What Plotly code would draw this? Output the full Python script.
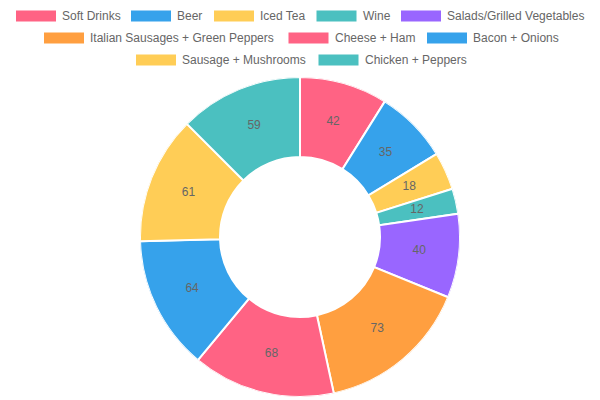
import plotly.graph_objects as go

labels = ["Soft Drinks", "Beer", "Iced Tea", "Wine", "Salads/Grilled Vegetables",
          "Italian Sausages + Green Peppers", "Cheese + Ham", "Bacon + Onions",
          "Sausage + Mushrooms", "Chicken + Peppers"]
values = [42, 35, 18, 12, 40, 73, 68, 64, 61, 59]
colors = ["rgb(255,99,132)", "rgb(54,162,235)", "rgb(255,205,86)", "rgb(75,192,192)",
          "rgb(153,102,255)", "rgb(255,159,64)", "rgb(255,99,132)", "rgb(54,162,235)",
          "rgb(255,205,86)", "rgb(75,192,192)"]

# legend layout (pixels): row index and box left edge
legend_row = [0, 0, 0, 0, 0, 1, 1, 1, 2, 2]
legend_x = [16, 131, 214, 316.5, 401, 44, 288.5, 427, 136, 318.5]
row_y = [16, 38, 60]

W, H = 600, 400
FONT = "Liberation Sans, Arial, Helvetica, sans-serif"
DOMAIN = dict(x=[0, 1], y=[0.0075, 0.8075])
HOLE = 0.5

# angular spans of each segment from the values
total = sum(values)
spans = [v / total * 360 for v in values]
mid_theta = []
cum = 0
for s in spans:
    mid_theta.append(cum + s / 2)
    cum += s

fig = go.Figure()
fig.add_trace(go.Barpolar(
    r=[1 - HOLE] * len(values), base=[HOLE] * len(values),
    theta=mid_theta, width=spans,
    marker=dict(color=colors, line=dict(color="white", width=2)),
    hoverinfo="skip", showlegend=False,
))
fig.add_trace(go.Scatterpolar(
    r=[(1 + HOLE) / 2] * len(values), theta=mid_theta, mode="text",
    text=[str(v) for v in values],
    textfont=dict(family=FONT, size=12, color="#666666"),
    hoverinfo="skip", showlegend=False,
))

shapes = []
annotations = []
for lab, col, r, x in zip(labels, colors, legend_row, legend_x):
    yc = row_y[r]
    shapes.append(dict(type="rect", xref="paper", yref="paper",
                       x0=x / W, x1=(x + 40) / W,
                       y0=1 - (yc + 5.5) / H, y1=1 - (yc - 5.5) / H,
                       fillcolor=col, line=dict(width=0)))
    annotations.append(dict(text=lab, xref="paper", yref="paper",
                            x=(x + 46) / W, y=1 - yc / H, xanchor="left", yanchor="middle",
                            showarrow=False, borderpad=0, borderwidth=0,
                            font=dict(family=FONT, size=12, color="#666666")))

fig.update_layout(
    width=W, height=H, margin=dict(l=0, r=0, t=0, b=0),
    paper_bgcolor="white", plot_bgcolor="white",
    polar=dict(domain=DOMAIN, bgcolor="rgba(0,0,0,0)", bargap=0,
               radialaxis=dict(range=[0, 1], visible=False, showgrid=False),
               angularaxis=dict(rotation=90, direction="clockwise", visible=False,
                                showgrid=False)),
    shapes=shapes, annotations=annotations,
)
fig.write_html("out.html")
